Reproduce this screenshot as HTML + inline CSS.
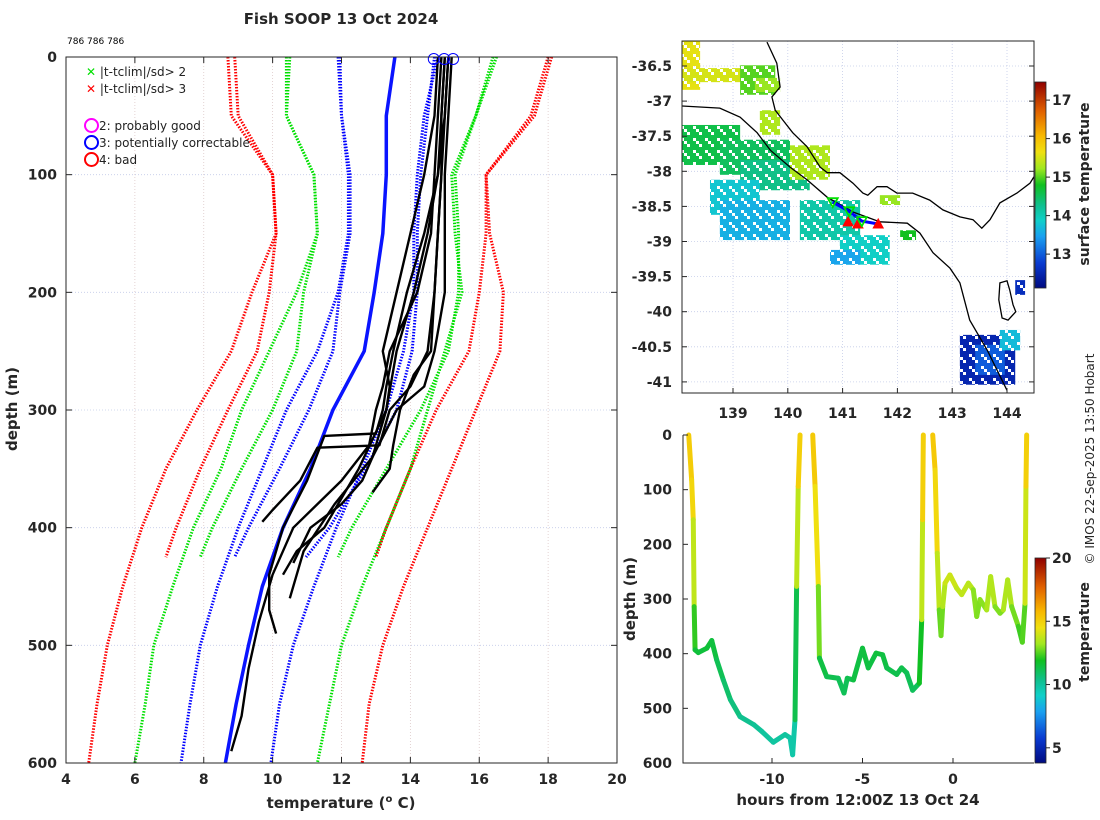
<!DOCTYPE html>
<html><head><meta charset="utf-8"><style>
body{margin:0;background:#fff;}
svg{display:block;font-family:"DejaVu Sans","Liberation Sans",sans-serif;}
.tk{font-size:14px;font-weight:bold;fill:#262626;}
</style></head><body>
<svg id="s" width="1100" height="820" viewBox="0 0 1100 820"></svg>
<script>
// ---------- main profile chart data ----------
const depthsLong=[0,50,100,150,200,250,300,350,400,450,500,550,600];
const depthsShort=[0,50,100,150,200,250,300,350,400,425];
const climMean=[13.55,13.3,13.3,13.2,12.95,12.66,11.75,11.1,10.3,9.7,9.3,8.94,8.63];
const longBlueL=[11.9,12.0,12.2,12.2,11.9,11.3,10.4,9.7,9.0,8.4,7.9,7.6,7.34];
const longBlueR=[14.8,14.4,14.2,14.1,14.1,13.8,13.3,12.6,11.85,11.2,10.6,10.2,9.95];
const longGreenL=[10.4,10.4,11.2,11.3,10.7,9.9,9.1,8.5,7.7,7.1,6.55,6.3,6.0];
const longGreenR=[16.5,15.9,15.2,15.3,15.5,15.0,14.5,14.0,13.3,12.6,12.0,11.65,11.3];
const longRedL=[8.9,9.0,10.0,10.1,9.4,8.8,7.8,6.9,6.2,5.65,5.2,4.9,4.66];
const longRedR=[18.1,17.6,16.2,16.3,16.7,16.6,15.9,15.2,14.5,13.8,13.2,12.8,12.6];
const shortBlueL=[11.95,12.0,12.25,12.25,11.95,11.75,11.05,10.2,9.3,8.9];
const shortBlueR=[14.7,14.5,14.3,14.2,14.2,14.05,13.6,12.7,11.65,10.97];
const shortGreenL=[10.5,10.4,11.2,11.3,10.9,10.7,10.0,9.1,8.25,7.9];
const shortGreenR=[16.4,15.9,15.3,15.4,15.4,15.1,14.3,13.3,12.3,11.9];
const shortRedL=[8.7,8.8,10.0,10.1,9.9,9.55,8.7,7.9,7.2,6.9];
const shortRedR=[18.0,17.5,16.2,16.2,16.0,15.7,14.75,14.0,13.3,13.0];
const profA_d=[0,50,100,150,200,250,280,300,330,360,400,440,480,520,560,590];
const profA_t=[14.9,14.8,14.7,14.6,14.2,13.4,13.2,13.0,12.8,12.0,10.6,10.0,9.6,9.3,9.1,8.8];
const profB_d=[0,50,100,150,200,250,280,300,320,322,360,400,440,470,490];
const profB_t=[15.0,14.9,14.8,14.4,13.9,13.5,13.3,13.2,13.0,11.5,11.0,10.3,9.9,9.9,10.1];
const profC_d=[0,50,100,150,200,250,280,300,330,332,360,385,395];
const profC_t=[15.1,15.0,14.9,14.8,14.7,14.5,14.0,13.4,13.1,11.3,10.8,10.0,9.7];
const profD_d=[0,50,100,150,200,250,280,300,340,380,420,460];
const profD_t=[15.2,15.1,15.0,15.0,15.0,14.7,14.4,13.6,12.9,11.8,10.9,10.5];
const profE_d=[0,50,100,150,200,250,280,300,340,360,380,400,430];
const profE_t=[14.8,14.7,14.4,14.0,13.6,13.2,13.4,13.3,12.9,12.6,12.0,11.1,10.6];
const profF_d=[0,50,100,150,200,250,270,300,330,350,370];
const profF_t=[15.0,14.9,14.9,14.8,14.7,14.6,14.1,13.7,13.5,13.4,12.9];
const profG_d=[0,50,100,150,200,250,300,350,400,420,440];
const profG_t=[15.1,15.0,14.8,14.5,14.1,13.6,13.3,12.5,11.5,10.7,10.3];
const flagTemps=[14.68,14.98,15.24];
const tempTicks=[4,6,8,10,12,14,16,18,20];
const depthTicks=[0,100,200,300,400,500,600];
// ---------- map data ----------
const lonTicks=[139,140,141,142,143,144];
const latTicks=[-36.5,-37,-37.5,-38,-38.5,-39,-39.5,-40,-40.5,-41];
const sstTicks=[13,14,15,16,17];
const coast1Lon=[139.62,139.80,139.86,139.71,139.77,139.91,140.09,140.35,140.59,140.72,140.95,141.19,141.37,141.46,141.63,141.81,141.99,142.28,142.59,142.83,143.14,143.38,143.54,143.69,143.87,144.18,144.42,144.49];
const coast1Lat=[-36.16,-36.46,-36.80,-36.94,-37.13,-37.27,-37.45,-37.65,-37.94,-38.02,-38.02,-38.17,-38.31,-38.34,-38.22,-38.22,-38.31,-38.31,-38.41,-38.55,-38.65,-38.69,-38.81,-38.69,-38.45,-38.31,-38.17,-38.08];
const coast2Lon=[138.07,138.76,139.13,139.44,139.68,140.04,140.35,140.72,141.19,141.68,142.18,142.41,142.65,142.96,143.14,143.32,143.64,144.0];
const coast2Lat=[-37.07,-37.10,-37.23,-37.45,-37.70,-37.94,-38.12,-38.37,-38.58,-38.72,-38.74,-38.88,-39.16,-39.38,-39.59,-40.12,-40.55,-41.12];
const islandLon=[143.87,144.0,144.05,144.11,144.16,144.02,143.91,143.85];
const islandLat=[-39.59,-39.56,-39.69,-39.9,-40.0,-40.12,-40.09,-39.83];
const patchLon0=[138.07,138.07,139.13,139.4,139.49,138.07,138.76,139.13,140.04,141.68,138.58,138.76,140.22,140.95,140.77,142.05,143.14,143.42,143.87,144.15];
const patchLon1=[138.4,139.77,139.77,139.86,139.86,139.13,140.04,140.4,140.77,142.05,139.49,140.04,141.32,141.86,141.32,142.34,144.15,143.96,144.24,144.33];
const patchLat0=[-36.14,-36.53,-36.49,-36.67,-37.13,-37.34,-37.55,-37.84,-37.63,-38.34,-38.12,-38.41,-38.41,-38.91,-39.12,-38.84,-40.33,-40.47,-40.26,-39.55];
const patchLat1=[-36.84,-36.73,-36.91,-36.87,-37.48,-37.91,-38.05,-38.27,-38.12,-38.48,-38.62,-38.98,-38.98,-39.33,-39.33,-38.98,-41.04,-40.9,-40.55,-39.76];
const patchSST=[15.6,15.5,15.0,15.2,15.3,14.6,14.5,14.3,15.3,15.2,13.8,13.6,14.1,13.9,13.5,14.8,12.5,13.0,13.7,12.6];
const goodLon=[140.82,141.12,141.35], goodLat=[-38.44,-38.57,-38.71];
const badLon=[141.1,141.28,141.65], badLat=[-38.72,-38.75,-38.75];
// ---------- time-depth data ----------
const hourTicks=[-10,-5,0];
const tempBarTicks=[5,10,15,20];
const seg1T=[-14.6,-14.44,-14.35,-14.3,-14.25,-14.07,-13.6,-13.33,-13.06,-12.69,-12.3,-11.77,-11.0,-10.57,-9.93,-9.28,-9.0,-8.86,-8.73,-8.64,-8.55,-8.45];
const seg1D=[0,82,155,314,393,398,390,376,411,448,484,515,530,542,562,548,554,585,521,277,94,0];
const seg1C=[15.3,15.0,14.6,12.8,11.6,11.5,11.5,11.6,11.3,11.0,10.7,10.4,10.2,10.1,9.9,10.0,10.0,9.6,10.0,12.5,14.8,15.3];
const seg2T=[-7.75,-7.62,-7.44,-7.38,-6.98,-6.34,-6.02,-5.84,-5.5,-5.0,-4.68,-4.25,-3.89,-3.66,-3.11,-2.84,-2.56,-2.23,-1.86,-1.73,-1.68,-1.64];
const seg2D=[0,94,277,408,442,445,472,445,448,390,426,399,402,426,438,426,435,467,454,338,155,0];
const seg2C=[15.4,15.0,14.0,11.6,11.2,11.2,11.0,11.2,11.2,11.6,11.3,11.5,11.5,11.3,11.2,11.3,11.2,11.0,11.1,12.6,14.8,15.3];
const seg3T=[-1.12,-0.99,-0.87,-0.76,-0.66,-0.57,-0.44,-0.17,0.2,0.48,0.85,1.12,1.31,1.49,1.86,2.08,2.32,2.6,2.78,3.02,3.24,3.61,3.83,3.98,4.03,4.07];
const seg3D=[0,64,216,320,367,314,271,256,280,292,271,283,332,301,320,259,314,326,320,265,314,350,379,308,94,0];
const seg3C=[15.4,15.1,14.4,13.0,12.3,13.2,13.8,14.0,13.8,13.6,13.8,13.4,12.6,13.2,12.8,14.0,13.0,12.8,13.0,13.9,13.0,12.6,12.0,13.0,14.8,15.3];

const NS='http://www.w3.org/2000/svg';
const svg=document.getElementById('s');
function mk(tag,attrs,parent,txt){const e=document.createElementNS(NS,tag);for(const k in attrs)e.setAttribute(k,attrs[k]);if(txt!==undefined)e.textContent=txt;(parent||svg).appendChild(e);return e;}
const stops=[[0,'#000a80'],[0.12,'#0a3ad0'],[0.25,'#1aa0f0'],[0.33,'#10d0c8'],[0.4,'#10c090'],[0.5,'#10c020'],[0.58,'#a0e820'],[0.66,'#f0e010'],[0.74,'#f8b800'],[0.86,'#e06000'],[1,'#900000']];
function hex(c){return [1,3,5].map(i=>parseInt(c.substr(i,2),16));}
function cmap(f){f=Math.max(0,Math.min(1,f));for(let i=1;i<stops.length;i++){if(f<=stops[i][0]){const a=stops[i-1],b=stops[i];const u=(f-a[0])/(b[0]-a[0]);const A=hex(a[1]),B=hex(b[1]);return 'rgb('+A.map((v,j)=>Math.round(v+(B[j]-v)*u)).join(',')+')';}}return stops[stops.length-1][1];}
const defs=mk('defs',{});
const gr=mk('linearGradient',{id:'cb',x1:0,y1:1,x2:0,y2:0},defs);
stops.forEach(s=>mk('stop',{offset:s[0],'stop-color':s[1]},gr));
// speckle mask to imitate pixelated satellite data
const pat=mk('pattern',{id:'spk',width:12,height:12,patternUnits:'userSpaceOnUse'},defs);
mk('rect',{x:0,y:0,width:12,height:12,fill:'#fff'},pat);
mk('rect',{x:3,y:0,width:3,height:3,fill:'#000'},pat);
mk('rect',{x:9,y:6,width:3,height:3,fill:'#000'},pat);
mk('rect',{x:0,y:9,width:3,height:3,fill:'#000'},pat);
const msk=mk('mask',{id:'spm'},defs);
mk('rect',{x:0,y:0,width:1100,height:820,fill:'url(#spk)'},msk);

// ===== main chart =====
const X0=66,X1=617,Y0=57,Y1=763;
const xT=t=>X0+(t-4)/16*(X1-X0);
const yD=d=>Y0+d/600*(Y1-Y0);
const gMain=mk('g',{});


tempTicks.forEach(t=>{if(t>4&&t<20){const l=mk('line',{x1:xT(t),x2:xT(t),y1:Y0,y2:Y1,stroke:'#dcc8c8','stroke-width':0.8,'stroke-dasharray':'1,2'},gMain);}});
depthTicks.forEach(d=>{if(d>0&&d<600){const l=mk('line',{x1:X0,x2:X1,y1:yD(d),y2:yD(d),stroke:'#c4cce8','stroke-width':0.8,'stroke-dasharray':'1,2'},gMain);}});
function profPath(ds,ts){return ds.map((d,i)=>(i?'L':'M')+xT(ts[i]).toFixed(1)+','+yD(d).toFixed(1)).join('');}
const clim=[[depthsShort,shortRedL,'#ff0000'],[depthsShort,shortRedR,'#ff0000'],[depthsShort,shortGreenL,'#00e000'],[depthsShort,shortGreenR,'#00e000'],[depthsShort,shortBlueL,'#0000ff'],[depthsShort,shortBlueR,'#0000ff'],
[depthsLong,longRedL,'#ff0000'],[depthsLong,longRedR,'#ff0000'],[depthsLong,longGreenL,'#00e000'],[depthsLong,longGreenR,'#00e000'],[depthsLong,longBlueL,'#0000ff'],[depthsLong,longBlueR,'#0000ff']];
clim.forEach(c=>{const p=mk('path',{d:profPath(c[0],c[1]),fill:'none',stroke:c[2],'stroke-width':3,'stroke-dasharray':'1.5,1.5'},gMain);});
const pm=mk('path',{d:profPath(depthsLong,climMean),fill:'none',stroke:'#0a14ff','stroke-width':3.5,'stroke-linejoin':'round'},gMain);

[[profA_d,profA_t],[profB_d,profB_t],[profC_d,profC_t],[profD_d,profD_t],[profE_d,profE_t],[profF_d,profF_t],[profG_d,profG_t]].forEach(p=>{const e=mk('path',{d:profPath(p[0],p[1]),fill:'none',stroke:'#000','stroke-width':2.4,'stroke-linejoin':'round'},gMain);});
flagTemps.forEach(t=>{const c=mk('circle',{cx:xT(t),cy:Y0+2,r:5.5,fill:'none',stroke:'#0000ff','stroke-width':1},gMain);});
const fr=mk('rect',{x:X0,y:Y0,width:X1-X0,height:Y1-Y0,fill:'none',stroke:'#262626','stroke-width':1},gMain);

tempTicks.forEach(t=>{mk('line',{x1:xT(t),x2:xT(t),y1:Y1,y2:Y1-6,stroke:'#262626'},gMain);mk('line',{x1:xT(t),x2:xT(t),y1:Y0,y2:Y0+6,stroke:'#262626'},gMain);const tx=mk('text',{x:xT(t),y:784,'text-anchor':'middle',class:'tk'},gMain,t);});
depthTicks.forEach(d=>{mk('line',{x1:X0,x2:X0+6,y1:yD(d),y2:yD(d),stroke:'#262626'},gMain);mk('line',{x1:X1,x2:X1-6,y1:yD(d),y2:yD(d),stroke:'#262626'},gMain);const tx=mk('text',{x:57,y:yD(d)+5,'text-anchor':'end',class:'tk'},gMain,d);});

// ===== map =====
const MX0=682,MX1=1034,MY0=41,MY1=393;
const xL=l=>733+(l-139)*54.8;
const yL=a=>66+(-36.5-a)*70.2;
const gMap=mk('g',{});


const cp=mk('clipPath',{id:'mc'},defs);
mk('rect',{x:MX0,y:MY0,width:MX1-MX0,height:MY1-MY0},cp);
const gClip=mk('g',{'clip-path':'url(#mc)'},gMap);
lonTicks.forEach(l=>mk('line',{x1:xL(l),x2:xL(l),y1:MY0,y2:MY1,stroke:'#c4cce8','stroke-width':0.8,'stroke-dasharray':'1,2'},gClip));
latTicks.forEach(a=>mk('line',{x1:MX0,x2:MX1,y1:yL(a),y2:yL(a),stroke:'#c4cce8','stroke-width':0.8,'stroke-dasharray':'1,2'},gClip));
const sMin=12.12,sMax=17.47;
const gPatch=mk('g',{mask:'url(#spm)'},gClip);
patchSST.forEach((v,i)=>{const r=mk('rect',{x:xL(patchLon0[i]),y:yL(patchLat0[i]),width:xL(patchLon1[i])-xL(patchLon0[i]),height:yL(patchLat1[i])-yL(patchLat0[i]),fill:cmap((v-sMin)/(sMax-sMin))},gPatch);});
function ll(lons,lats){return lons.map((l,i)=>(i?'L':'M')+xL(l).toFixed(1)+','+yL(lats[i]).toFixed(1)).join('');}
const c1=mk('path',{d:ll(coast1Lon,coast1Lat),fill:'none',stroke:'#000','stroke-width':1.3},gClip);
const c2=mk('path',{d:ll(coast2Lon,coast2Lat),fill:'none',stroke:'#000','stroke-width':1.3},gClip);
const is=mk('path',{d:ll(islandLon,islandLat)+'Z',fill:'none',stroke:'#000','stroke-width':1.3},gClip);
const tr=mk('path',{d:ll(goodLon.concat([badLon[2]]),goodLat.concat([badLat[2]])),fill:'none',stroke:'#0000ff','stroke-width':3},gClip);
badLon.forEach((l,i)=>{const x=xL(l),y=yL(badLat[i]);const p=mk('path',{d:`M${x-5},${y+4}L${x+5},${y+4}L${x},${y-5}Z`,fill:'#ff0000',stroke:'#ff0000'},gClip);});
goodLon.forEach((l,i)=>{const x=xL(l),y=yL(goodLat[i]);const p=mk('path',{d:`M${x-5},${y-4}L${x+5},${y-4}L${x},${y+5}Z`,fill:'none',stroke:'#00e000','stroke-width':1.8},gClip);});
mk('rect',{x:MX0,y:MY0,width:MX1-MX0,height:MY1-MY0,fill:'none',stroke:'#262626'},gMap);
lonTicks.forEach(l=>{mk('line',{x1:xL(l),x2:xL(l),y1:MY1,y2:MY1-5,stroke:'#262626'},gMap);const t=mk('text',{x:xL(l),y:418,'text-anchor':'middle',class:'tk'},gMap,l);});
latTicks.forEach(a=>{mk('line',{x1:MX0,x2:MX0+5,y1:yL(a),y2:yL(a),stroke:'#262626'},gMap);mk('line',{x1:MX1,x2:MX1-5,y1:yL(a),y2:yL(a),stroke:'#262626'},gMap);const t=mk('text',{x:672,y:yL(a)+5,'text-anchor':'end',class:'tk'},gMap,a);});
// sst colorbar
const CB1Y0=82,CB1Y1=288;
const ySST=v=>CB1Y1-(v-sMin)/(sMax-sMin)*(CB1Y1-CB1Y0);
const cb1=mk('rect',{x:1035,y:CB1Y0,width:11,height:CB1Y1-CB1Y0,fill:'url(#cb)',stroke:'#262626','stroke-width':0.8});

sstTicks.forEach(v=>{mk('line',{x1:1046,x2:1050,y1:ySST(v),y2:ySST(v),stroke:'#262626'});const t=mk('text',{x:1052,y:ySST(v)+5,class:'tk'},svg,v);});

// ===== time-depth plot =====
const BX0=683,BX1=1034,BY0=435,BY1=763;
const xH=h=>953+h*18.1;
const yB=d=>BY0+d/600*(BY1-BY0);
const gB=mk('g',{});


const tMin=3.8,tMax=20;
[[seg1T,seg1D,seg1C],[seg2T,seg2D,seg2C],[seg3T,seg3D,seg3C]].forEach(s=>{for(let i=0;i<s[0].length-1;i++){const l=mk('line',{x1:xH(s[0][i]),y1:yB(s[1][i]),x2:xH(s[0][i+1]),y2:yB(s[1][i+1]),stroke:cmap(((s[2][i]+s[2][i+1])/2-tMin)/(tMax-tMin)),'stroke-width':5,'stroke-linecap':'round'},gB);}});
mk('path',{d:`M${BX0},${BY0}L${BX0},${BY1}L${BX1},${BY1}`,fill:'none',stroke:'#262626'},gB);
hourTicks.forEach(h=>{mk('line',{x1:xH(h),x2:xH(h),y1:BY1,y2:BY1-5,stroke:'#262626'},gB);const t=mk('text',{x:xH(h),y:784,'text-anchor':'middle',class:'tk'},gB,h);});
depthTicks.forEach(d=>{mk('line',{x1:BX0,x2:BX0+5,y1:yB(d),y2:yB(d),stroke:'#262626'},gB);const t=mk('text',{x:672,y:yB(d)+5,'text-anchor':'end',class:'tk'},gB,d);});
const CB2Y0=558,CB2Y1=763;
const yTB=v=>CB2Y1-(v-tMin)/(tMax-tMin)*(CB2Y1-CB2Y0);
const cb2=mk('rect',{x:1035,y:CB2Y0,width:11,height:CB2Y1-CB2Y0,fill:'url(#cb)',stroke:'#262626','stroke-width':0.8});

tempBarTicks.forEach(v=>{mk('line',{x1:1046,x2:1050,y1:yTB(v),y2:yTB(v),stroke:'#262626'});const t=mk('text',{x:1052,y:yTB(v)+5,class:'tk'},svg,v);});
</script>
<div style="position:absolute;left:0;top:0;width:1100px;height:820px;pointer-events:none;font-family:'DejaVu Sans','Liberation Sans',sans-serif;color:#262626;">
<div style="position:absolute;left:191px;top:10px;width:300px;text-align:center;font-weight:bold;font-size:15px;">Fish SOOP 13 Oct 2024</div>
<div style="position:absolute;left:67px;top:37px;font-size:9px;color:#000;">786 786 786</div>
<div style="position:absolute;left:86px;top:64px;font-size:12px;color:#222;line-height:17px;">
<div><span style="color:#00e000;font-weight:bold;">✕</span> |t-tclim|/sd&gt; 2</div>
<div><span style="color:#ff0000;font-weight:bold;">✕</span> |t-tclim|/sd&gt; 3</div>
<div style="height:20px"></div>
<div style="margin-left:-2px;"><span style="display:inline-block;width:11px;height:11px;border:2.5px solid #ff00ff;border-radius:50%;vertical-align:-3px;"></span>2: probably good</div>
<div style="margin-left:-2px;"><span style="display:inline-block;width:11px;height:11px;border:2.5px solid #0000ff;border-radius:50%;vertical-align:-3px;"></span>3: potentially correctable</div>
<div style="margin-left:-2px;"><span style="display:inline-block;width:11px;height:11px;border:2.5px solid #ff0000;border-radius:50%;vertical-align:-3px;"></span>4: bad</div>
</div>
<div style="position:absolute;left:191px;top:794px;width:300px;text-align:center;font-weight:bold;font-size:15px;">temperature (<sup style="font-size:10px">o</sup> C)</div>
<div style="position:absolute;left:-88px;top:400px;width:200px;text-align:center;font-weight:bold;font-size:15px;transform:rotate(-90deg);">depth (m)</div>
<div style="position:absolute;left:708px;top:791px;width:300px;text-align:center;font-weight:bold;font-size:15px;">hours from 12:00Z 13 Oct 24</div>
<div style="position:absolute;left:530px;top:590px;width:200px;text-align:center;font-weight:bold;font-size:15px;transform:rotate(-90deg);">depth (m)</div>
<div style="position:absolute;left:985px;top:176px;width:200px;text-align:center;font-weight:bold;font-size:14px;transform:rotate(-90deg);">surface temperature</div>
<div style="position:absolute;left:985px;top:624px;width:200px;text-align:center;font-weight:bold;font-size:14px;transform:rotate(-90deg);">temperature</div>
<div style="position:absolute;left:960px;top:452px;width:260px;text-align:center;font-size:12px;transform:rotate(-90deg);">© IMOS 22-Sep-2025 13:50 Hobart</div>
</div>
</body></html>
